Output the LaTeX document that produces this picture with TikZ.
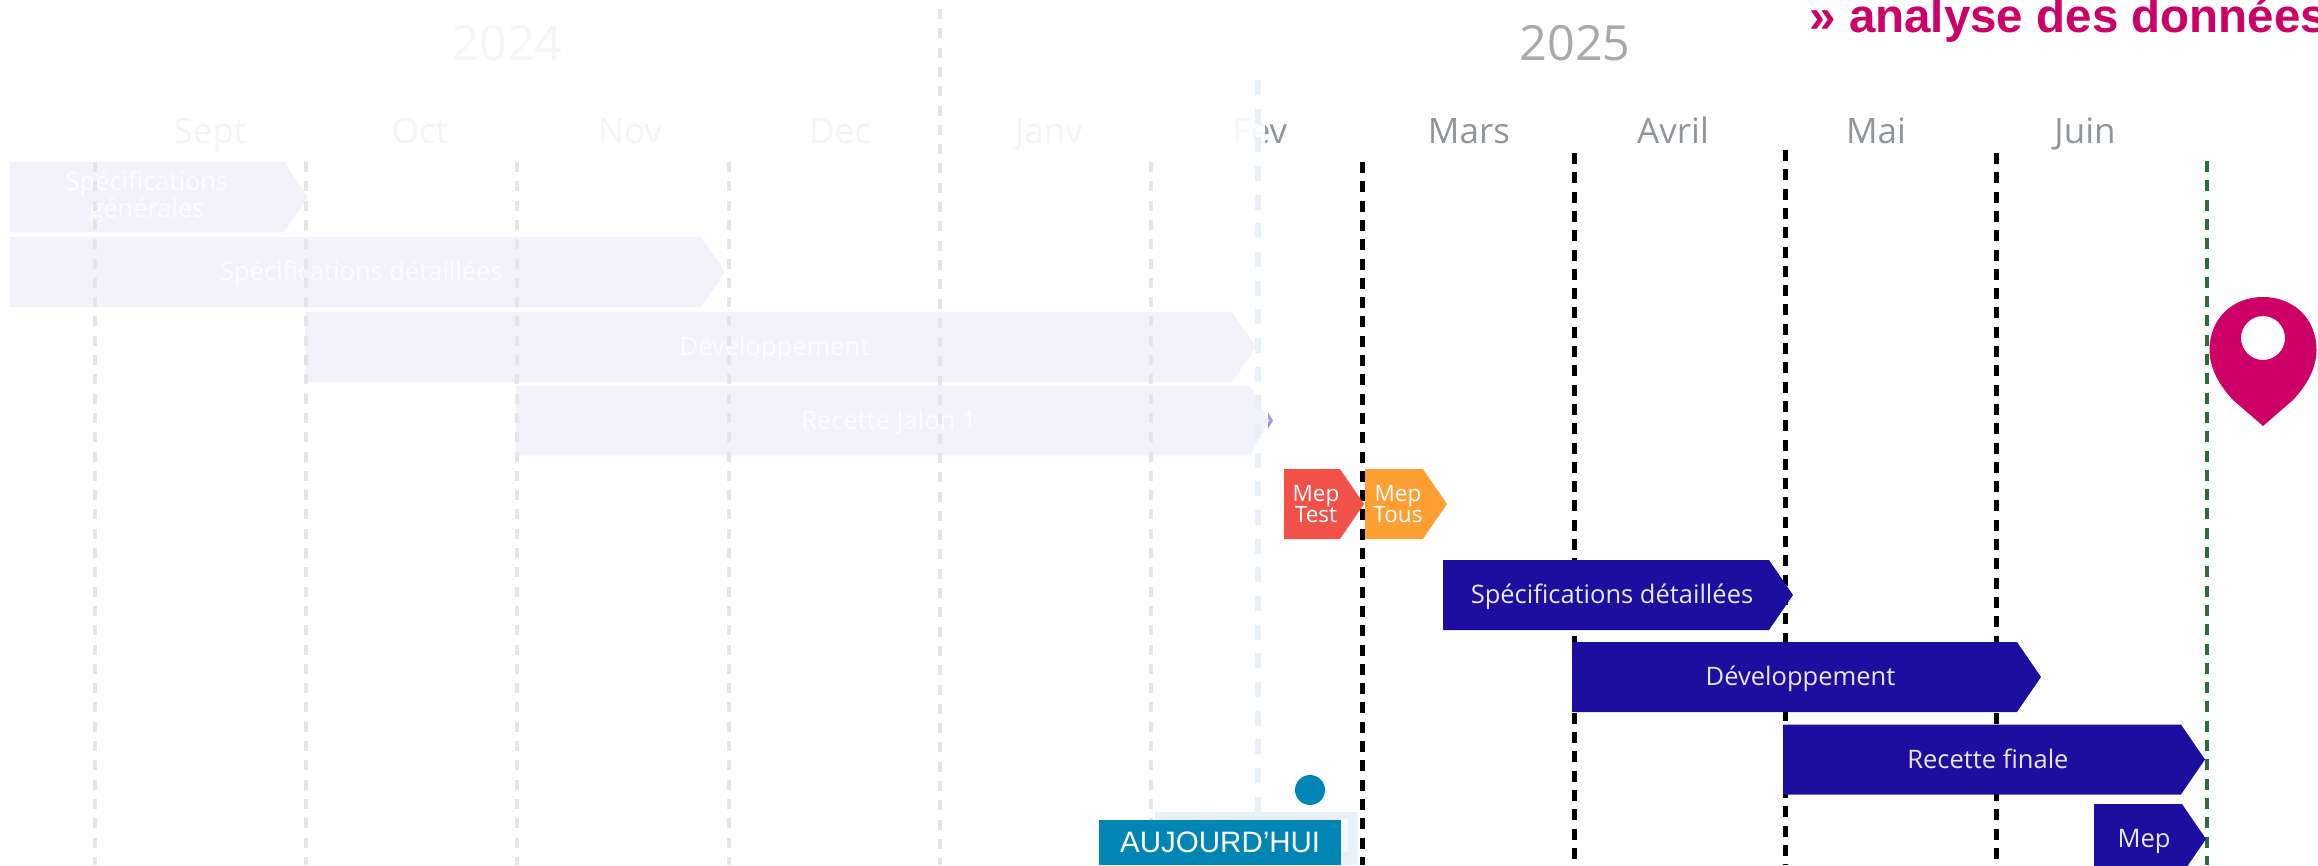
\documentclass[tikz,border=0pt]{standalone}
\usepackage{fontspec}
\setmainfont{Open Sans}
\newfontfamily\arialfont{Liberation Sans}
\usepackage{xcolor}
\usetikzlibrary{shapes.symbols,positioning}
\definecolor{barblue}{HTML}{1C0FA0}
\definecolor{barfaint}{HTML}{F3F2FA}
\definecolor{labelfaint}{HTML}{FCFCFE}
\definecolor{linefaint}{HTML}{E6E6E6}
\definecolor{todayblue}{HTML}{0085B5}
\definecolor{todaylight}{HTML}{E8F1F8}
\definecolor{pinred}{HTML}{CC0066}
\definecolor{mepred}{HTML}{F2514A}
\definecolor{meporange}{HTML}{FF9F33}
\definecolor{monthgrey}{HTML}{90959A}
\definecolor{yeargrey}{HTML}{A6AAAB}
\definecolor{yearfaint}{HTML}{F6F6F6}
\definecolor{monthfaint}{HTML}{F5F5F5}
\definecolor{limitgreen}{HTML}{2F6B3C}
\newcommand{\barindent}{\hspace*{8pt}}
\newcommand{\barlabel}[1]{\hspace*{12pt}\rule[-6pt]{0pt}{30pt}#1}

\begin{document}
\begin{tikzpicture}[
    x=1pt, y=-1pt,
    bar/.style={signal, signal to=east, signal pointer angle=111, minimum height=70, inner sep=0pt, outer sep=0pt, anchor=west},
    oneline/.style={bar, font=\fontsize{25.5}{30}\selectfont},
    planbar/.style={oneline, fill=barblue, text=white!90!barblue},
    oldbar/.style={oneline, fill=barfaint, text=labelfaint},
    mepbar/.style={bar, text=white, align=center, font=\fontsize{22.5}{21.5}\selectfont},
    year/.style={anchor=base, font=\fontsize{48.5}{50}\selectfont},
    month/.style={anchor=base, font=\fontsize{35}{40}\selectfont},
    oldline/.style={linefaint, line width=4pt, dash pattern=on 10pt off 9.3pt},
    doneline/.style={black, line width=5pt, dash pattern=on 11pt off 8.3pt},
    endline/.style={limitgreen, line width=4.5pt, dash pattern=on 11pt off 8.3pt}
]
    \clip (0,0) rectangle (2318,865);

    % Faded 2024 bars
    \node[bar, fill=barfaint, text=labelfaint, minimum width=298, align=center, font=\fontsize{25.5}{23}\selectfont] (oldgen) at (10,197) {Spécifications\\générales};
    \node[oldbar, minimum width=715] (olddet) at (10,272) {\barlabel{Spécifications détaillées}};
    \node[oldbar, minimum width=951] (olddev) at (305,347) {\barlabel{Developpement}};
    \fill[white!50!barblue!80] (1268,412) -- (1273,420.5) -- (1268,429) -- cycle;
    \node[oldbar, minimum width=753, signal pointer angle=123] (oldrec) at (516,420.5) {\barlabel{Recette Jalon 1}};

    % Faded grid
    \draw[oldline] (95,162) -- (95,865);
    \draw[oldline] (306,162) -- (306,865);
    \draw[oldline] (517,162) -- (517,865);
    \draw[oldline] (729,162) -- (729,865);
    \draw[oldline] (940,9) -- (940,865);
    \draw[oldline] (1151,162) -- (1151,865);

    % Years and months
    \node[year, text=yearfaint] (y2024) at (507,60) {2024};
    \node[year, text=yeargrey] (y2025) at (1575,60) {2025};
    \node[month, text=monthfaint] (sept) at (210,143) {Sept};
    \node[month, text=monthfaint] (oct) at (420,143) {Oct};
    \node[month, text=monthfaint] (nov) at (630,143) {Nov};
    \node[month, text=monthfaint] (dec) at (840,143) {Dec};
    \node[month, text=monthfaint] (janv) at (1049,143) {Janv};
    \node[month, text=monthgrey] (fev) at (1260,143) {Fev};
    \fill[white, opacity=0.92] (1225,100) rectangle (1265,160);
    \node[month, text=monthgrey] (mars) at (1469,143) {Mars};
    \node[month, text=monthgrey] (avril) at (1673,143) {Avril};
    \node[month, text=monthgrey] (mai) at (1876,143) {Mai};
    \node[month, text=monthgrey] (juin) at (2085,143) {Juin};

    % Today marker
    \draw[todaylight, line width=6pt, dash pattern=on 15pt off 13.67pt] (1258,80) -- (1258,813);
    \fill[todaylight] (1155,812) rectangle (1358,865);
    \fill[white!60!todaylight] (1341,819) rectangle (1348,852);
    \node[circle, fill=todayblue, minimum size=30, inner sep=0pt] (todaydot) at (1310,790) {};
    \node[fill=todayblue, text=white, minimum width=242, minimum height=45, inner sep=0pt, anchor=north west, font=\arialfont\fontsize{29.5}{34}\selectfont] (today) at (1099,820) {AUJOURD’HUI};

    % 2025 grid
    \draw[doneline] (1362,162) -- (1362,865);
    \draw[doneline] (1574,153) -- (1574,865);
    \draw[doneline] (1785,150) -- (1785,865);
    \draw[doneline] (1996,153) -- (1996,865);
    \draw[endline] (2207,161) -- (2207,865);

    % 2025 bars
    \node[mepbar, fill=mepred, minimum width=80] (meptest) at (1284,504) {\barindent Mep\\\barindent Test};
    \node[mepbar, fill=meporange, minimum width=82] (meptous) at (1365,504) {\barindent Mep\\\barindent Tous};
    \node[planbar, minimum width=350] (newdet) at (1443,595) {\barlabel{Spécifications détaillées}};
    \node[planbar, minimum width=469] (newdev) at (1572,677) {\barlabel{Développement}};
    \node[planbar, minimum width=422] (newrec) at (1783,759.5) {\barlabel{Recette finale}};
    \node[planbar, minimum width=112] (newmep) at (2094,839) {\barlabel{Mep}};

    % Title and pin
    \node[anchor=base west, text=pinred, font=\arialfont\bfseries\fontsize{47.5}{50}\selectfont] (title) at (1806,32) {» analyse des données};
    \fill[pinred, even odd rule] (2263,426) -- (2233,400) .. controls (2219,385) and (2209.5,368) .. (2209.5,350) .. controls (2209.5,318) and (2233,297) .. (2263,297) .. controls (2293,297) and (2316.5,318) .. (2316.5,350) .. controls (2316.5,368) and (2307,385) .. (2293,400) -- cycle (2263,338) circle[radius=22];
\end{tikzpicture}
\end{document}
